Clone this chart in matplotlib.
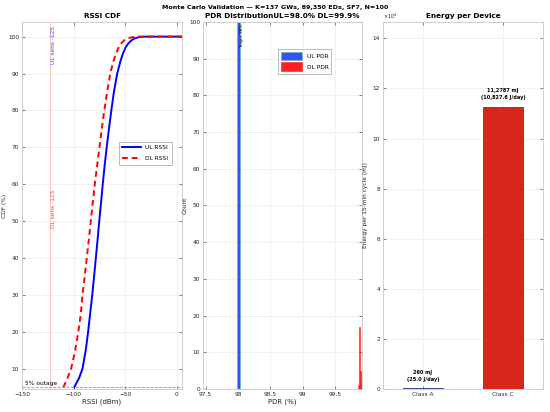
import matplotlib
matplotlib.use("Agg")
import matplotlib.pyplot as plt
from matplotlib.ticker import FuncFormatter

# RSSI CDF
cdf_pct = [5, 7.5, 10, 15, 20, 25, 30, 35, 40, 45, 50, 55, 60, 65, 70, 75,
           80, 85, 90, 93, 95, 97, 98, 99, 99.5, 99.8, 99.9, 100, 100]
ul_rssi = [-99.5, -94.8, -91.5, -88.3, -86, -84, -82, -80.2, -78.5, -76.8,
           -75.2, -73.5, -71.8, -70, -68, -65.8, -63.5, -61, -57.8, -55,
           -52.8, -49.8, -47.5, -44, -41, -37.5, -35, -30, 5]
dl_rssi = [-110, -106, -102.5, -98.5, -95.5, -93, -91.5, -89.3, -87.3, -85.3,
           -83.4, -81.5, -79.5, -77.3, -75, -72.8, -70.3, -67.6, -64.5, -61.8,
           -59.5, -56.5, -54.5, -51, -48, -44, -41.5, -36, 5]
sens_dbm = -123
outage_pct = 5

# PDR histograms (bin edges and counts)
ul_bin_edges = [97.5, 97.54, 97.58, 97.62, 97.66, 97.70, 97.74, 97.78, 97.82,
                97.86, 97.90, 97.94, 97.98, 98.03, 98.06, 98.10, 98.14, 98.18,
                98.22, 98.26, 98.30, 98.34, 98.38, 98.42, 98.46, 98.50]
ul_counts = [0] * 12 + [100] + [0] * 12
dl_bin_edges = [99.855, 99.865, 99.875, 99.885, 99.895, 99.905, 99.915]
dl_counts = [1, 4, 17, 5, 3, 2]
target_pdr = 98

# Energy per device
classes = ["Class A", "Class C"]
energy_mj = [260, 112787]
energy_labels = ["260 mJ\n(25.0 J/day)", "11,2787 mJ\n(10,827.6 J/day)"]

plt.rcParams["font.family"] = ["DejaVu Sans"]
fig = plt.figure(figsize=(5.5, 4.12), dpi=100)
fs = 4.2
tc = "#262626"
spine_c = "#c8c8c8"


def style(ax):
    for s in ax.spines.values():
        s.set_color(spine_c)
        s.set_linewidth(0.6)
    ax.tick_params(direction="in", length=2, width=0.4, labelsize=fs,
                   colors=tc, top=True, right=True, pad=2)
    ax.grid(True, color="#ebebeb", linewidth=0.5)
    ax.set_axisbelow(True)


# left: RSSI CDF
ax1 = fig.add_axes([0.040, 0.056, 0.291, 0.891])
style(ax1)
ax1.plot(ul_rssi, cdf_pct, color="#0000ff", lw=1.4, label="UL RSSI")
ax1.plot(dl_rssi, cdf_pct, color="#ff0000", lw=1.4, ls=(0, (3, 2)), label="DL RSSI")
ax1.axvline(sens_dbm, color="#ffb0b0", lw=0.5)
ax1.axhline(outage_pct, color="#999999", lw=0.6, ls="--")
ax1.text(-147, outage_pct + 0.4, "5% outage", fontsize=fs, color="black", va="bottom")
ax1.text(sens_dbm + 1.5, 103, "UL sens -125", rotation=90, color="#4040ff",
         fontsize=fs, va="top", ha="left")
ax1.text(sens_dbm + 1.5, 58.5, "DL sens -125", rotation=90, color="#ff4040",
         fontsize=fs, va="top", ha="left")
ax1.set_xlim(-150, 5)
ax1.set_ylim(4.6, 104)
ax1.set_xticks([-150, -100, -50, 0])
ax1.set_yticks(range(10, 101, 10))
ax1.set_xlabel("RSSI (dBm)", fontsize=5, color=tc, labelpad=1)
ax1.set_ylabel("CDF (%)", fontsize=fs, color=tc, labelpad=1)
ax1.set_title("RSSI CDF", fontsize=5.2, fontweight="bold", pad=2.5)
leg1 = ax1.legend(loc="center", bbox_to_anchor=(0.77, 0.642), fontsize=fs,
                  frameon=True, fancybox=False, edgecolor="#888888",
                  handlelength=3.2, borderpad=0.6, labelspacing=1.0)
leg1.get_frame().set_linewidth(0.5)

# middle: PDR distribution
ax2 = fig.add_axes([0.369, 0.056, 0.289, 0.891])
style(ax2)
ax2.stairs(ul_counts, ul_bin_edges, fill=True, facecolor="#3a4ff5",
           edgecolor="#66bbaa", linewidth=0.5, label="UL PDR")
ax2.stairs(dl_counts, dl_bin_edges, fill=True, facecolor="#ff2020",
           edgecolor="#ff3030", linewidth=0.5, label="DL PDR")
ax2.text(target_pdr + 0.035, 99.5, "Target 98%", rotation=90, fontsize=3.2,
         va="top", ha="left", color="black")
ax2.set_xlim(97.46, 99.915)
ax2.set_ylim(0, 100)
ax2.set_xticks([97.5, 98, 98.5, 99, 99.5])
ax2.set_xticklabels(["97.5", "98", "98.5", "99", "99.5"])
ax2.set_yticks(range(0, 101, 10))
ax2.set_xlabel("PDR (%)", fontsize=5, color=tc, labelpad=1)
ax2.set_ylabel("Count", fontsize=fs, color=tc, labelpad=1)
ax2.set_title("PDR DistributionUL=98.0% DL=99.9%", fontsize=5.2,
              fontweight="bold", pad=2.5)
handles, labels = ax2.get_legend_handles_labels()
leg2 = ax2.legend(handles, labels, loc="upper right", bbox_to_anchor=(0.826, 0.935),
                  fontsize=fs, frameon=True, fancybox=False, edgecolor="#888888",
                  handlelength=3.6, handleheight=1.9, borderpad=0.5,
                  labelspacing=0.4)
leg2.get_frame().set_linewidth(0.5)

# right: energy per device
ax3 = fig.add_axes([0.696, 0.056, 0.291, 0.891])
style(ax3)
bars = ax3.bar(classes, energy_mj, width=0.5, color=["#1f3ea6", "#d9261c"],
               edgecolor=["#1a2f80", "#7a1a14"], linewidth=0.5)
for b, lab in zip(bars, energy_labels):
    ax3.text(b.get_x() + b.get_width() / 2, b.get_height() + 2600, lab,
             ha="center", va="bottom", fontsize=3.6, fontweight="bold",
             linespacing=1.5)
ax3.set_xlim(-0.5, 1.5)
ax3.set_ylim(0, 1.3 * max(energy_mj))
ax3.set_yticks(range(0, 140001, 20000))
ax3.yaxis.set_major_formatter(FuncFormatter(lambda v, p: f"{v / 1e4:g}"))
ax3.text(0.0, 1.003, r"$\times10^4$", transform=ax3.transAxes, fontsize=3.6,
         color=tc, va="bottom", ha="left")
ax3.set_ylabel("Energy per 15-min cycle (mJ)", fontsize=fs, color=tc, labelpad=3)
ax3.set_title("Energy per Device", fontsize=5.2, fontweight="bold", pad=2.5)

fig.text(0.5, 0.983, "Monte Carlo Validation \u2014 K=137 GWs, 89,350 EDs, SF7, N=100",
         ha="center", va="center", fontsize=4.6, fontweight="bold")

fig.savefig("out.png", dpi=100)
